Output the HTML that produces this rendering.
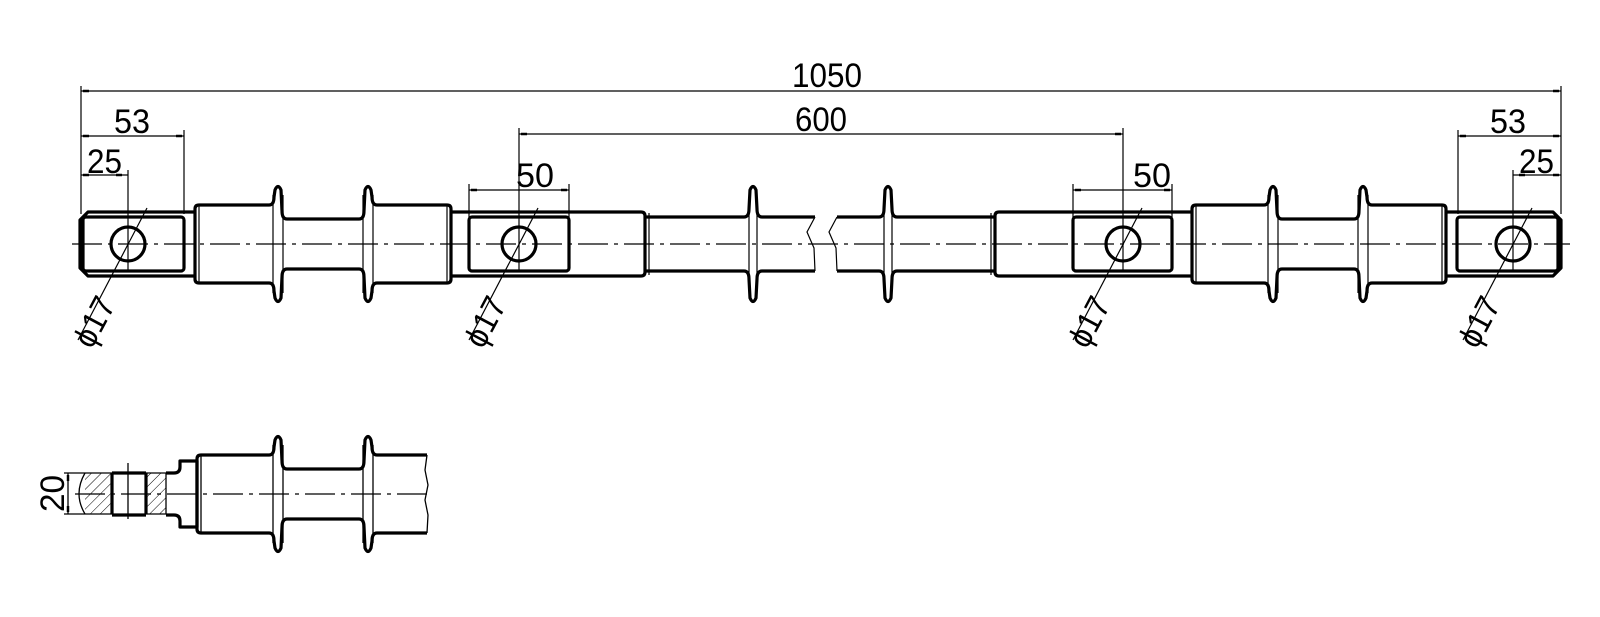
<!DOCTYPE html>
<html><head><meta charset="utf-8"><style>
html,body{margin:0;padding:0;background:#fff;}
svg{display:block;}
text{font-family:"Liberation Sans",sans-serif;fill:#000;}
</style></head><body>
<svg width="1600" height="617" viewBox="0 0 1600 617" xmlns="http://www.w3.org/2000/svg">
<defs>
<pattern id="h" width="7" height="7" patternUnits="userSpaceOnUse" patternTransform="rotate(45)">
<line x1="0" y1="0" x2="0" y2="7" stroke="#000" stroke-width="1"/>
</pattern>
</defs>
<rect width="1600" height="617" fill="#fff"/>

<g id="th" fill="none" stroke="#000" stroke-width="3.2" stroke-linejoin="round">
<path d="M80,244 L80,220 L88,212 L195,212"/>
<path d="M195,244 L195,209 Q195,205 199,205 L269,205 Q274,205 274,197 L275,190 Q278,183 281,190 L282,211 Q282,219 287,219 L359,219 Q364,219 364,211 L365,190 Q368,183 371,190 L372,197 Q372,205 377,205 L447,205 Q451,205 451,209 L451,244"/>
<path d="M451,212 L641,212 Q645,212 645,216 L645,244"/>
<path d="M645,217 L744,217 Q749,217 749,209 L750,190 Q753,183 756,190 L757,209 Q757,217 762,217 L815,217"/>
<path d="M837,217 L879,217 Q884,217 884,209 L885,190 Q888,183 891,190 L892,209 Q892,217 897,217 L995,217"/>
<path d="M995,244 L995,216 Q995,212 999,212 L1192,212"/>
<path d="M1192,244 L1192,209 Q1192,205 1196,205 L1264,205 Q1269,205 1269,197 L1270,190 Q1273,183 1276,190 L1277,211 Q1277,219 1282,219 L1354,219 Q1359,219 1359,211 L1360,190 Q1363,183 1366,190 L1367,197 Q1367,205 1372,205 L1442,205 Q1446,205 1446,209 L1446,244"/>
<path d="M1446,212 L1553,212 L1561,220 L1561,244"/>
</g>
<use href="#th" transform="matrix(1 0 0 -1 0 488)"/>

<g fill="none" stroke="#000" stroke-width="3.2">
<rect x="83" y="217" width="101" height="54" rx="3"/>
<rect x="469" y="217" width="100" height="54" rx="3"/>
<rect x="1073" y="217" width="99" height="54" rx="3"/>
<rect x="1457" y="217" width="101" height="54" rx="3"/>
<circle cx="128" cy="244" r="17"/>
<circle cx="519" cy="244" r="17"/>
<circle cx="1123" cy="244" r="17"/>
<circle cx="1513" cy="244" r="17"/>
</g>

<g fill="none" stroke="#000" stroke-width="1.2">
<line x1="199" y1="206" x2="199" y2="282"/>
<line x1="273" y1="195" x2="273" y2="293"/><line x1="283" y1="195" x2="283" y2="293"/>
<line x1="363" y1="195" x2="363" y2="293"/><line x1="373" y1="195" x2="373" y2="293"/>
<line x1="447" y1="206" x2="447" y2="282"/>
<line x1="649" y1="213" x2="649" y2="275"/>
<line x1="749" y1="209" x2="749" y2="279"/><line x1="757" y1="209" x2="757" y2="279"/>
<line x1="884" y1="209" x2="884" y2="279"/><line x1="892" y1="209" x2="892" y2="279"/>
<line x1="991" y1="213" x2="991" y2="275"/>
<line x1="1196" y1="206" x2="1196" y2="282"/>
<line x1="1268" y1="195" x2="1268" y2="293"/><line x1="1278" y1="195" x2="1278" y2="293"/>
<line x1="1358" y1="195" x2="1358" y2="293"/><line x1="1368" y1="195" x2="1368" y2="293"/>
<line x1="1442" y1="206" x2="1442" y2="282"/>
<path d="M815,217 L807,232 L814,248 L815,271"/>
<path d="M837,217 L829,232 L836,248 L837,271"/>
<line x1="72" y1="244" x2="1570" y2="244" stroke-dasharray="30 6 4 6"/>

<line x1="81" y1="86" x2="81" y2="214"/>
<line x1="1561" y1="86" x2="1561" y2="214"/>
<line x1="184" y1="130" x2="184" y2="214"/>
<line x1="1458" y1="130" x2="1458" y2="214"/>
<line x1="128" y1="170" x2="128" y2="272"/>
<line x1="1513" y1="170" x2="1513" y2="272"/>
<line x1="519" y1="128" x2="519" y2="272"/>
<line x1="1123" y1="128" x2="1123" y2="272"/>
<line x1="469" y1="184" x2="469" y2="217"/><line x1="569" y1="184" x2="569" y2="217"/>
<line x1="1073" y1="184" x2="1073" y2="217"/><line x1="1172" y1="184" x2="1172" y2="217"/>

<line x1="81" y1="91" x2="1561" y2="91"/>
<line x1="81" y1="136" x2="184" y2="136"/>
<line x1="81" y1="175" x2="128" y2="175"/>
<line x1="519" y1="134" x2="1123" y2="134"/>
<line x1="469" y1="190" x2="569" y2="190"/>
<line x1="1073" y1="190" x2="1172" y2="190"/>
<line x1="1458" y1="136" x2="1561" y2="136"/>
<line x1="1513" y1="175" x2="1561" y2="175"/>

<line x1="147" y1="208" x2="78" y2="340"/>
<line x1="538" y1="208" x2="469" y2="340"/>
<line x1="1142" y1="208" x2="1073" y2="340"/>
<line x1="1532" y1="208" x2="1463" y2="340"/>
</g>

<g stroke="#000" stroke-width="2.5">
<line x1="83" y1="91" x2="89" y2="91"/><line x1="1553" y1="91" x2="1559" y2="91"/>
<line x1="83" y1="136" x2="89" y2="136"/><line x1="176" y1="136" x2="182" y2="136"/>
<line x1="83" y1="175" x2="89" y2="175"/><line x1="116" y1="175" x2="122" y2="175"/>
<line x1="521" y1="134" x2="527" y2="134"/><line x1="1115" y1="134" x2="1121" y2="134"/>
<line x1="471" y1="190" x2="477" y2="190"/><line x1="561" y1="190" x2="567" y2="190"/>
<line x1="1075" y1="190" x2="1081" y2="190"/><line x1="1164" y1="190" x2="1170" y2="190"/>
<line x1="1460" y1="136" x2="1466" y2="136"/><line x1="1553" y1="136" x2="1559" y2="136"/>
<line x1="1519" y1="175" x2="1525" y2="175"/><line x1="1553" y1="175" x2="1559" y2="175"/>
</g>

<g font-size="34">
<text x="792" y="87" textLength="70" lengthAdjust="spacingAndGlyphs">1050</text>
<text x="795" y="131" textLength="52" lengthAdjust="spacingAndGlyphs">600</text>
<text x="114" y="133" textLength="36" lengthAdjust="spacingAndGlyphs">53</text>
<text x="87" y="173" textLength="35" lengthAdjust="spacingAndGlyphs">25</text>
<text x="516" y="187" textLength="38" lengthAdjust="spacingAndGlyphs">50</text>
<text x="1133" y="187" textLength="38" lengthAdjust="spacingAndGlyphs">50</text>
<text x="1490" y="133" textLength="36" lengthAdjust="spacingAndGlyphs">53</text>
<text x="1519" y="173" textLength="35" lengthAdjust="spacingAndGlyphs">25</text>
</g>
<g font-size="33">
<text transform="translate(92,350) rotate(-62)" textLength="52" lengthAdjust="spacingAndGlyphs">ϕ17</text>
<text transform="translate(483,350) rotate(-62)" textLength="52" lengthAdjust="spacingAndGlyphs">ϕ17</text>
<text transform="translate(1087,350) rotate(-62)" textLength="52" lengthAdjust="spacingAndGlyphs">ϕ17</text>
<text transform="translate(1477,350) rotate(-62)" textLength="52" lengthAdjust="spacingAndGlyphs">ϕ17</text>
</g>

<rect x="85" y="473" width="27" height="41" fill="url(#h)"/>
<rect x="146" y="473" width="20" height="41" fill="url(#h)"/>
<g id="bh" fill="none" stroke="#000" stroke-width="3.2" stroke-linejoin="round">
<path d="M112,473 L146,473"/>
<path d="M166,473 L174,473 Q180,473 180,467 L180,461 L197,461 L197,494"/>
<path d="M197,494 L197,459 Q197,455 201,455 L269,455 Q274,455 274,447 L275,440 Q278,433 281,440 L282,461 Q282,469 287,469 L359,469 Q364,469 364,461 L365,440 Q368,433 371,440 L372,447 Q372,455 377,455 L427,455"/>
</g>
<use href="#bh" transform="matrix(1 0 0 -1 0 988)"/>
<g fill="none" stroke="#000" stroke-width="3.2">
<line x1="112" y1="473" x2="112" y2="514"/>
<line x1="146" y1="473" x2="146" y2="514"/>
</g>
<g fill="none" stroke="#000" stroke-width="1.3">
<line x1="85" y1="473" x2="112" y2="473"/><line x1="85" y1="514" x2="112" y2="514"/>
<line x1="146" y1="473" x2="166" y2="473"/><line x1="146" y1="514" x2="166" y2="514"/>
<path d="M85,473 Q73,494 85,514"/>
<line x1="166" y1="473" x2="166" y2="514"/>
<line x1="201" y1="456" x2="201" y2="532"/>
<line x1="273" y1="445" x2="273" y2="543"/><line x1="283" y1="445" x2="283" y2="543"/>
<line x1="363" y1="445" x2="363" y2="543"/><line x1="373" y1="445" x2="373" y2="543"/>
<path d="M427,455 L425,470 L428,485 L425,500 L428,515 L427,533"/>
<line x1="75" y1="494" x2="432" y2="494" stroke-dasharray="30 6 4 6"/>
<line x1="128" y1="463" x2="128" y2="519"/>
<line x1="64" y1="473" x2="85" y2="473"/>
<line x1="64" y1="514" x2="85" y2="514"/>
<line x1="68" y1="473" x2="68" y2="514"/>
</g>
<g stroke="#000" stroke-width="2.5">
<line x1="68" y1="475" x2="68" y2="481"/><line x1="68" y1="506" x2="68" y2="512"/>
</g>
<text font-size="34" transform="translate(64,512) rotate(-90)" textLength="37" lengthAdjust="spacingAndGlyphs">20</text>
</svg>
</body></html>
